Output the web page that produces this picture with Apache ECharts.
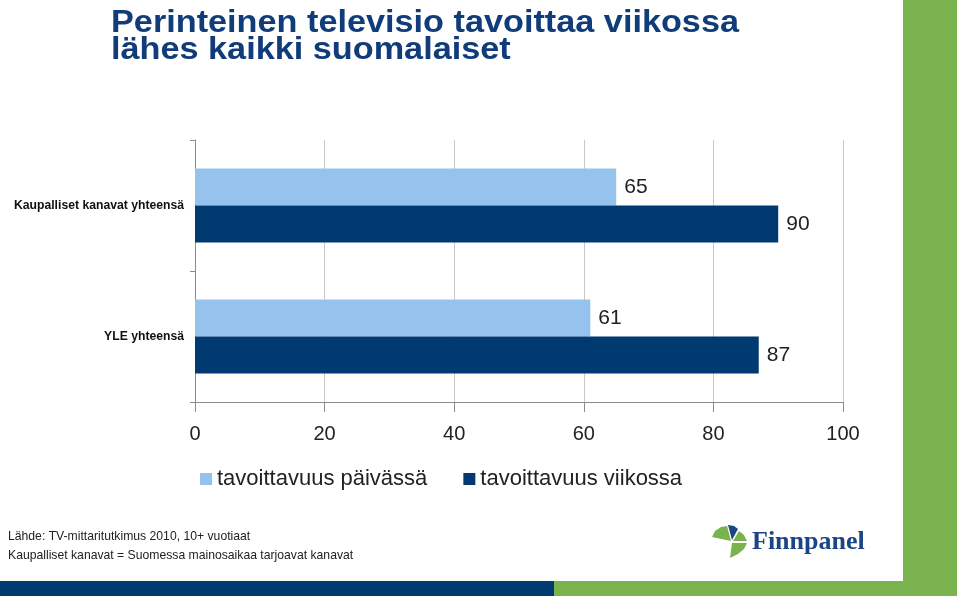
<!DOCTYPE html>
<html>
<head>
<meta charset="utf-8">
<script src="https://cdn.jsdelivr.net/npm/echarts@6/dist/echarts.min.js"></script>
<style>html,body{margin:0;padding:0;background:#fff;}#c{width:960px;height:598px;}</style>
</head>
<body>
<div id="c"></div>
<script>
const categories = ['Kaupalliset kanavat yhteensä', 'YLE yhteensä'];
const seriesNames = ['tavoittavuus päivässä', 'tavoittavuus viikossa'];
const dailyReach = [65, 61];
const weeklyReach = [90, 87];
const xTicks = [0, 20, 40, 60, 80, 100];
const titleLines = ['Perinteinen televisio tavoittaa viikossa', 'lähes kaikki suomalaiset'];
const notes = ['Lähde: TV-mittaritutkimus 2010, 10+ vuotiaat', 'Kaupalliset kanavat = Suomessa mainosaikaa tarjoavat kanavat'];

const chart = echarts.init(document.getElementById('c'), null, {renderer: 'canvas'});
const FONT = '"Liberation Sans", Arial, sans-serif';
const NAVY = '#003A70';
const GREEN = '#7AB24E';
const LIGHT = '#95C3EE';
const TITLE = '#103C79';

chart.setOption({
  animation: false,
  backgroundColor: '#ffffff',
  textStyle: {fontFamily: FONT},
  legend: {
    data: seriesNames,
    left: 195, top: 463,
    itemWidth: 12, itemHeight: 12, itemGap: 36,
    icon: 'rect',
    textStyle: {fontFamily: FONT, fontSize: 22, color: '#222'}
  },
  grid: {left: 195, right: 117, top: 140, bottom: 196, containLabel: false},
  xAxis: {
    type: 'value', min: 0, max: 100, interval: 20,
    axisLine: {show: true, lineStyle: {color: '#8c8c8c'}},
    axisTick: {show: true, length: 10, lineStyle: {color: '#8c8c8c'}},
    splitLine: {show: true, lineStyle: {color: '#c8c8c8'}},
    axisLabel: {fontSize: 20, color: '#222', margin: 22, formatter: v => xTicks.includes(v) ? String(v) : ''}
  },
  yAxis: {
    type: 'category', data: categories, inverse: true,
    axisLine: {show: true, lineStyle: {color: '#8c8c8c'}},
    axisTick: {show: true, length: 5, lineStyle: {color: '#8c8c8c'}},
    axisLabel: {fontSize: 12.2, fontWeight: 'bold', color: '#111', margin: 11}
  },
  series: [
    {name: seriesNames[0], type: 'bar', data: dailyReach, barWidth: 37, barGap: '0%',
     itemStyle: {color: LIGHT},
     label: {show: true, position: 'right', distance: 8, fontSize: 21, color: '#222'}},
    {name: seriesNames[1], type: 'bar', data: weeklyReach, barWidth: 37, barGap: '0%',
     itemStyle: {color: NAVY},
     label: {show: true, position: 'right', distance: 8, fontSize: 21, color: '#222'}}
  ],
  graphic: [
    {type: 'rect', shape: {x: 903, y: 0, width: 54, height: 583}, style: {fill: GREEN}, silent: true},
    {type: 'rect', shape: {x: 0, y: 581, width: 554, height: 15}, style: {fill: NAVY}, silent: true},
    {type: 'rect', shape: {x: 554, y: 581, width: 403, height: 15}, style: {fill: GREEN}, silent: true},
    {type: 'text', x: 111, y: 7, scaleX: 1.07, style: {text: titleLines[0], font: 'bold 32px ' + FONT, fill: TITLE}},
    {type: 'text', x: 111, y: 34, scaleX: 1.07, style: {text: titleLines[1], font: 'bold 32px ' + FONT, fill: TITLE}},
    {type: 'text', left: 8, top: 531, style: {text: notes[0], font: '12.2px ' + FONT, fill: '#222'}},
    {type: 'text', left: 8, top: 550, style: {text: notes[1], font: '12.2px ' + FONT, fill: '#222'}},
    {type: 'polygon', shape: {points: [[712,537],[715,531],[721,527],[727,526],[731,541]]}, style: {fill: GREEN}},
    {type: 'polygon', shape: {points: [[728,525],[734,526],[738,529],[732,540]]}, style: {fill: '#1B4584'}},
    {type: 'polygon', shape: {points: [[739,531],[744,535],[747,541],[733,541]]}, style: {fill: GREEN}},
    {type: 'polygon', shape: {points: [[732,543],[747,543],[744,549],[738,554],[730,558]]}, style: {fill: GREEN}},
    {type: 'text', left: 752, top: 529, style: {text: 'Finnpanel', font: 'bold 26px "Liberation Serif", "DejaVu Serif", serif', fill: '#1B4584'}}
  ]
});
</script>
</body>
</html>
